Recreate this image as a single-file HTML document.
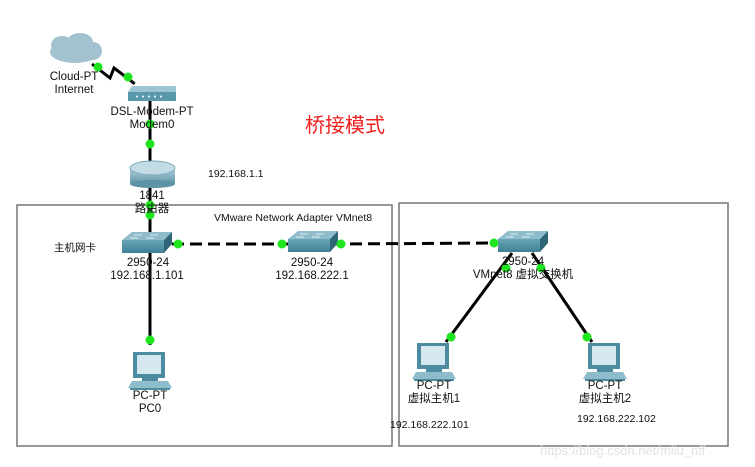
<!DOCTYPE html>
<html><head><meta charset="utf-8"><style>
html,body{margin:0;padding:0;background:#fff;}
svg{display:block;font-family:"Liberation Sans","Noto Sans CJK SC",sans-serif;}
</style></head><body>
<svg width="755" height="467" viewBox="0 0 755 467" xmlns="http://www.w3.org/2000/svg">
<defs>
<linearGradient id="sw" x1="0" y1="0" x2="0" y2="1"><stop offset="0" stop-color="#6aa5b8"/><stop offset="1" stop-color="#3f7f94"/></linearGradient>
<linearGradient id="rt" x1="0" y1="0" x2="0" y2="1"><stop offset="0" stop-color="#b6d3de"/><stop offset="1" stop-color="#5c93a6"/></linearGradient>
<g id="switch">
<polygon points="0,8 10,0 50,0 42,8" fill="#8fbccb"/>
<rect x="0" y="8" width="42" height="13" fill="url(#sw)"/>
<polygon points="42,8 50,0 50,12 42,21" fill="#2f6677"/>
<line x1="12" y1="3" x2="20" y2="3" stroke="#d8ecf2"/><line x1="28" y1="3" x2="36" y2="3" stroke="#d8ecf2"/>
<line x1="8" y1="6" x2="16" y2="6" stroke="#d8ecf2"/><line x1="24" y1="6" x2="32" y2="6" stroke="#d8ecf2"/>
</g>
<g id="pc">
<rect x="5" y="0" width="32" height="26" fill="#4d8ba0"/>
<rect x="9" y="3" width="24" height="19" fill="#d5e8ef"/>
<rect x="14" y="26" width="16" height="3" fill="#4d8ba0"/>
<polygon points="4,29 40,29 44,36 0,36" fill="#8fbccb"/>
<rect x="2" y="36" width="40" height="2" fill="#4d8ba0"/>
</g>
</defs>
<rect x="17" y="205" width="375" height="241" fill="none" stroke="#777" stroke-width="1.5"/>
<rect x="399" y="203" width="329" height="243" fill="none" stroke="#777" stroke-width="1.5"/>
<g stroke="#000" stroke-width="3" fill="none">
<polyline points="92,64 110,78 114,68 122,74"/>
<line x1="122" y1="74" x2="135" y2="84" stroke-dasharray="6,4"/>
<line x1="150" y1="100" x2="150" y2="162"/>
<line x1="150" y1="186" x2="150" y2="232"/>
<line x1="150" y1="253" x2="150" y2="345"/>
<line x1="172" y1="244" x2="290" y2="244" stroke-dasharray="12,6"/>
<line x1="332" y1="244" x2="498" y2="243" stroke-dasharray="12,6"/>
<line x1="512" y1="253" x2="446" y2="342"/>
<line x1="532" y1="253" x2="592" y2="342"/>
</g>
<g fill="#a3c2cf">
<ellipse cx="75" cy="52" rx="25" ry="11"/><ellipse cx="62" cy="45" rx="11" ry="9"/><ellipse cx="80" cy="42" rx="13" ry="9"/><ellipse cx="93" cy="51" rx="9" ry="9"/>
</g>
<polygon points="128,92 132,86 176,86 176,92" fill="#9cc6d4"/>
<rect x="128" y="92" width="48" height="9" fill="#5a98ac"/>
<g fill="#fff"><circle cx="137" cy="96.5" r="1"/><circle cx="143" cy="96.5" r="1"/><circle cx="149" cy="96.5" r="1"/><circle cx="155" cy="96.5" r="1"/><circle cx="161" cy="96.5" r="1"/></g>
<rect x="130" y="168" width="45" height="16" fill="url(#rt)"/>
<ellipse cx="152.5" cy="184" rx="22.5" ry="4" fill="#5c93a6"/>
<ellipse cx="152.5" cy="168" rx="22.5" ry="7" fill="#c3dbe4" stroke="#7aa8b8"/>
<use href="#switch" x="122" y="232"/>
<use href="#switch" x="288" y="231"/>
<use href="#switch" x="498" y="231"/>
<use href="#pc" x="128" y="352"/>
<use href="#pc" x="412" y="343"/>
<use href="#pc" x="583" y="343"/>
<g fill="#1ee61e">
<circle cx="98" cy="67" r="4.5"/><circle cx="128" cy="77" r="4.5"/>
<circle cx="150" cy="124" r="4.5"/><circle cx="150" cy="144" r="4.5"/>
<circle cx="150" cy="205" r="4.5"/><circle cx="150" cy="215" r="4.5"/>
<circle cx="178" cy="244" r="4.5"/><circle cx="282" cy="244" r="4.5"/><circle cx="341" cy="244" r="4.5"/>
<circle cx="494" cy="243" r="4.5"/><circle cx="506" cy="268" r="4.5"/><circle cx="541" cy="268" r="4.5"/>
<circle cx="451" cy="337" r="4.5"/><circle cx="587" cy="337" r="4.5"/><circle cx="150" cy="340" r="4.5"/>
</g>
<g font-size="11.5" fill="#111" text-anchor="middle">
<text x="74" y="80">Cloud-PT</text><text x="74" y="93">Internet</text>
<text x="152" y="115">DSL-Modem-PT</text><text x="152" y="128">Modem0</text>
<text x="152" y="199">1841</text><text x="152" y="212">路由器</text>
<text x="148" y="266">2950-24</text><text x="147" y="279">192.168.1.101</text>
<text x="312" y="266">2950-24</text><text x="312" y="279">192.168.222.1</text>
<text x="523" y="265">2950-24</text><text x="523" y="278">VMnet8 虚拟交换机</text>
<text x="150" y="399">PC-PT</text><text x="150" y="412">PC0</text>
<text x="434" y="389">PC-PT</text><text x="434" y="402">虚拟主机1</text>
<text x="605" y="389">PC-PT</text><text x="605" y="402">虚拟主机2</text>
</g>
<g font-size="10.5" fill="#111">
<text x="208" y="177">192.168.1.1</text>
<text x="54" y="251">主机网卡</text>
<text x="214" y="221">VMware Network Adapter VMnet8</text>
<text x="390" y="428">192.168.222.101</text>
<text x="577" y="422">192.168.222.102</text>
</g>
<text x="305" y="132" font-size="20" fill="#f02020">桥接模式</text>
<text x="540" y="455" font-size="13" fill="#e2e2e2">https://blog.csdn.net/milu_nff</text>
</svg>
</body></html>
